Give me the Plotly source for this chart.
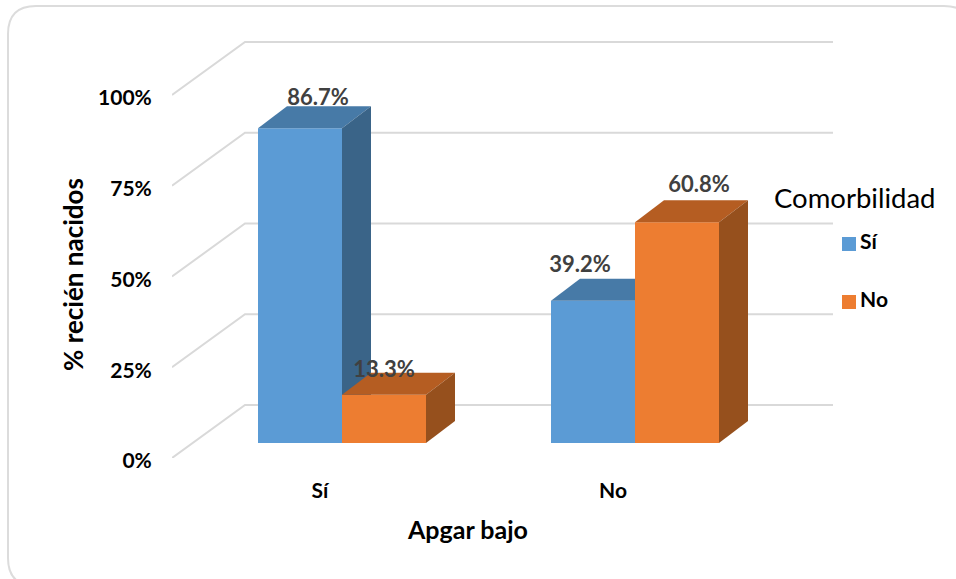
import plotly.graph_objects as go

# Chart data
categories = ["Sí", "No"]
series_si = [86.7, 39.2]
series_no = [13.3, 60.8]
percent_ticks = [0, 25, 50, 75, 100]
percent_tick_labels = ["0%", "25%", "50%", "75%", "100%"]

# Canvas and projection of the box, in pixels
W, H = 956, 579
PLOT_LEFT, PLOT_BOTTOM = 172, 458   # front corner of the floor
GROUP_0, GROUP_STEP = 342, 293      # centre of the first group, spacing of groups
PX_PER_PCT = 3.63


def ux(px):
    return px / GROUP_STEP


def uy(px):
    return px / PX_PER_PCT


BAR_W = ux(84)
BASE = uy(15)                       # bars stand this far up the floor
DEPTH_X, DEPTH_Y = ux(29), uy(22)   # receding edge of a bar
WALL_X, WALL_Y = ux(73), uy(53)     # receding edge of the floor
WALL_END = ux(833 - GROUP_0)
X0 = ux(PLOT_LEFT - GROUP_0)
X1 = ux(W - GROUP_0)
Y1 = uy(PLOT_BOTTOM)

BLUE = ("#5b9bd5", "#477aa7", "#3a6488")
ORANGE = ("#ed7d31", "#b55d22", "#96501d")
GRID = "#d9d9d9"
FONT = "Lato"


def add_series(fig, name, values, side, colors, xa, ya):
    """Front as a bar; roof and side as polygons receding from the bar top."""
    centers = [i + side * BAR_W / 2 for i in range(len(values))]
    fig.add_trace(go.Bar(
        x=centers, y=values, base=[BASE] * len(values), width=BAR_W, name=name,
        marker=dict(color=colors[0], line=dict(width=0)),
        showlegend=False, xaxis=xa, yaxis=ya,
    ))
    for c, v in zip(centers, values):
        l, r = c - BAR_W / 2, c + BAR_W / 2
        top = BASE + v
        fig.add_trace(go.Scatter(
            x=[l, r, r + DEPTH_X, l + DEPTH_X, l],
            y=[top, top, top + DEPTH_Y, top + DEPTH_Y, top],
            mode="lines", fill="toself", fillcolor=colors[1], line=dict(width=0),
            hoverinfo="skip", showlegend=False, xaxis=xa, yaxis=ya,
        ))
        fig.add_trace(go.Scatter(
            x=[r, r + DEPTH_X, r + DEPTH_X, r, r],
            y=[BASE, BASE + DEPTH_Y, top + DEPTH_Y, top, BASE],
            mode="lines", fill="toself", fillcolor=colors[2], line=dict(width=0),
            hoverinfo="skip", showlegend=False, xaxis=xa, yaxis=ya,
        ))
    return centers


fig = go.Figure()
si_centers = add_series(fig, "Sí", series_si, -1, BLUE, "x", "y")
no_centers = add_series(fig, "No", series_no, 1, ORANGE, "x2", "y2")

# Value labels, nudged individually so they sit clear of the roofs
label_dx = [18, -13, 0, 22]
label_dy = [7, 12, 1, 14]
label_x, label_y, label_text = [], [], []
for centers, values in ((si_centers, series_si), (no_centers, series_no)):
    for c, v in zip(centers, values):
        label_x.append(c)
        label_y.append(BASE + v + DEPTH_Y)
        label_text.append(f"{v:.1f}%")
fig.add_trace(go.Scatter(
    x=[x + ux(d) for x, d in zip(label_x, label_dx)],
    y=[y + uy(d) for y, d in zip(label_y, label_dy)],
    text=label_text, mode="text", textposition="middle center",
    textfont=dict(family=FONT, size=22, color="#404040", weight="bold"),
    hoverinfo="skip", showlegend=False, xaxis="x2", yaxis="y2",
))

# Legend keys
for name, color, py in (("Sí", BLUE[0], 244), ("No", ORANGE[0], 302)):
    fig.add_trace(go.Scatter(
        x=[ux(849 - GROUP_0)], y=[uy(PLOT_BOTTOM - py)], text=["\u200a" + name],
        mode="markers+text", textposition="middle right",
        marker=dict(symbol="square", size=14, color=color, line=dict(width=0)),
        textfont=dict(family=FONT, size=21, color="#000000", weight="bold"),
        hoverinfo="skip", showlegend=False, xaxis="x2", yaxis="y2",
    ))

# Grid: one line down the side wall and one along the back wall per tick
shapes = []
for t in percent_ticks:
    shapes.append(dict(
        type="path", xref="x", yref="y", layer="below",
        path=f"M{X0},{t} L{X0 + WALL_X},{t + WALL_Y} L{WALL_END},{t + WALL_Y}",
        line=dict(color=GRID, width=2),
    ))

# Rounded card outline, running off the right and bottom edges of the page
L, T, R, B, C = 8, 6, 972, 586, 28


def p(x, y):
    return f"{x / W},{1 - y / H}"


shapes.append(dict(
    type="path", xref="paper", yref="paper", layer="below",
    path=(f"M{p(L + C, T)} L{p(R - C, T)} Q{p(R, T)} {p(R, T + C)} "
          f"L{p(R, B - C)} Q{p(R, B)} {p(R - C, B)} L{p(L + C, B)} "
          f"Q{p(L, B)} {p(L, B - C)} L{p(L, T + C)} Q{p(L, T)} {p(L + C, T)} Z"),
    line=dict(color="#dcdcdc", width=2),
))

annotations = [
    dict(text="Comorbilidad", xref="paper", yref="paper", x=854 / W, y=1 - 197 / H,
         showarrow=False, xanchor="center", yanchor="middle",
         font=dict(family=FONT, size=27.5, color="#000000")),
    dict(text="% recién nacidos", xref="paper", yref="paper", x=73 / W, y=1 - 275 / H,
         showarrow=False, textangle=-90, xanchor="center", yanchor="middle",
         font=dict(family=FONT, size=26, color="#000000", weight="bold")),
    dict(text="Apgar bajo", xref="paper", yref="paper", x=467 / W, y=1 - 529 / H,
         showarrow=False, xanchor="center", yanchor="middle",
         font=dict(family=FONT, size=25, color="#000000", weight="bold")),
]

# Category labels sit on the floor's front edge, left of the bar groups
category_ticks = [i + ux(-22) for i in range(len(categories))]

fig.update_layout(
    width=W, height=H, margin=dict(l=0, r=0, t=0, b=0),
    paper_bgcolor="#ffffff", plot_bgcolor="rgba(0,0,0,0)",
    barmode="overlay", showlegend=False,
    shapes=shapes, annotations=annotations,
    xaxis=dict(
        domain=[PLOT_LEFT / W, 1], range=[X0, X1], showgrid=False, zeroline=False,
        showline=False, tickmode="array", tickvals=category_ticks, ticktext=categories,
        ticks="outside", ticklen=14, tickcolor="rgba(0,0,0,0)", automargin=False,
        tickfont=dict(family=FONT, size=21, color="#000000", weight="bold"),
    ),
    yaxis=dict(
        domain=[(H - PLOT_BOTTOM) / H, 1], range=[0, Y1], showgrid=False, zeroline=False,
        showline=False, tickmode="array", tickvals=percent_ticks,
        ticktext=percent_tick_labels, ticks="outside", ticklen=15,
        ticklabelshift=3, tickcolor="rgba(0,0,0,0)", automargin=False,
        tickfont=dict(family=FONT, size=21, color="#000000", weight="bold"),
    ),
    xaxis2=dict(overlaying="x", matches="x", anchor="y2", visible=False,
                domain=[PLOT_LEFT / W, 1]),
    yaxis2=dict(overlaying="y", matches="y", anchor="x2", visible=False,
                domain=[(H - PLOT_BOTTOM) / H, 1]),
)

fig.write_html("out.html", config=dict(displayModeBar=False))
